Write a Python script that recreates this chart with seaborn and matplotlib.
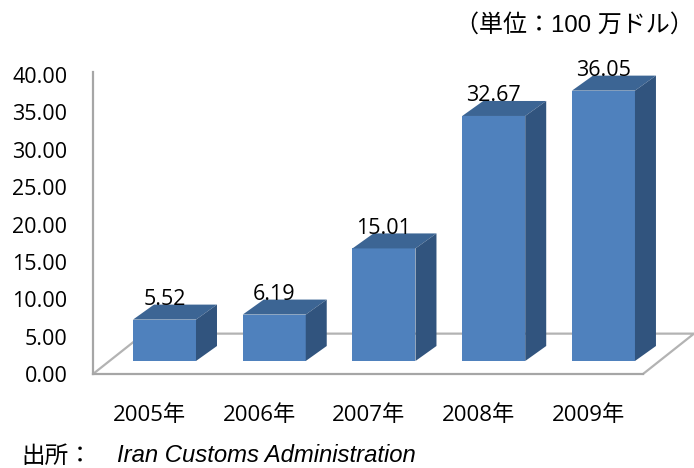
import matplotlib
matplotlib.use("Agg")
import matplotlib.pyplot as plt
import pandas as pd
import seaborn as sns
from matplotlib.patches import Polygon

years = ["2005年", "2006年", "2007年", "2008年", "2009年"]
imports = [5.52, 6.19, 15.01, 32.67, 36.05]
y_ticks = [0, 5, 10, 15, 20, 25, 30, 35, 40]
unit_note = "（単位：100 万ドル）"
source_label = "出所："
source_name = "Iran Customs Administration"

W, H = 694, 468
FONT = ["Open Sans", "Noto Sans CJK JP"]
LATIN_CJK = ["Liberation Sans", "Noto Sans CJK JP"]


def create_fig(out_path="out.png"):
    sns.set_theme(style="white")
    plt.rcParams["font.family"] = FONT
    plt.rcParams["text.color"] = "black"

    fig = plt.figure(figsize=(W / 100, H / 100), dpi=100)
    rect = [93 / W, 1 - 374 / H, (694 - 93) / W, (374 - 72) / H]

    # back axes: value axis, category labels and the floor of the 3D box
    ax = fig.add_axes(rect, label="axis")
    ax.set_xlim(-0.515, 4.965)
    ax.set_ylim(0, 302 / 7.475)
    ax.set_yticks(y_ticks, [f"{v:.2f}" for v in y_ticks])
    ax.set_xticks(range(len(years)), years)
    ax.tick_params(axis="y", length=0, pad=18.5, labelsize=15.5, labelcolor="black")
    ax.tick_params(axis="x", length=0, pad=22.5, labelsize=16, labelcolor="black")
    for label in ax.get_yticklabels():
        label.set_verticalalignment("center_baseline")
    for side in ["top", "right"]:
        ax.spines[side].set_visible(False)
    for side in ["left", "bottom"]:
        ax.spines[side].set_color("#a6a6a6")
        ax.spines[side].set_linewidth(1.6)
    ax.spines["bottom"].set_bounds(-0.515, 4.5)
    floor_x = [-0.515, -0.05, 4.965, 4.5]
    floor_y = [0, 5.4, 5.4, 0]
    ax.plot(floor_x, floor_y, color="#b3b3b3", lw=1.6, clip_on=False)

    # front axes: the bars, shifted by the depth of the box
    bar_ax = fig.add_axes(rect, label="bars")
    df = pd.DataFrame({"year": years, "value": imports})
    sns.barplot(data=df, x="year", y="value", ax=bar_ax, color="#4f81bd",
                saturation=1, width=0.574, linewidth=0, clip_on=False)
    bar_ax.set_xlim(-0.6515, 4.825)
    bar_ax.set_ylim(-13 / 7.5, 289 / 7.5)

    dx, dy = 21 / 109.75, 15 / 7.5
    for bar in bar_ax.containers[0]:
        x0, x1 = bar.get_x(), bar.get_x() + bar.get_width()
        h = bar.get_height()
        top = [(x0, h), (x1, h), (x1 + dx, h + dy), (x0 + dx, h + dy)]
        right = [(x1, 0), (x1 + dx, dy), (x1 + dx, h + dy), (x1, h)]
        bar_ax.add_patch(Polygon(top, color="#3c6594", lw=0, clip_on=False))
        bar_ax.add_patch(Polygon(right, color="#31547e", lw=0, clip_on=False))

    bar_ax.bar_label(bar_ax.containers[0], fmt="%.2f", padding=7, fontsize=15.5,
                     color="black")
    bar_ax.axis("off")

    fig.text(455 / W, 1 - 25 / H, unit_note, family=LATIN_CJK, fontsize=17.3,
             va="center", ha="left", color="black")
    fig.text(21 / W, 1 - 456 / H, source_label, family=LATIN_CJK, style="italic",
             fontsize=17, va="center", ha="left", color="black")
    fig.text(117 / W, 1 - 456 / H, source_name, family=LATIN_CJK, style="italic",
             fontsize=17.2, va="center", ha="left", color="black")

    fig.savefig(out_path, dpi=100)


if __name__ == "__main__":
    create_fig()
